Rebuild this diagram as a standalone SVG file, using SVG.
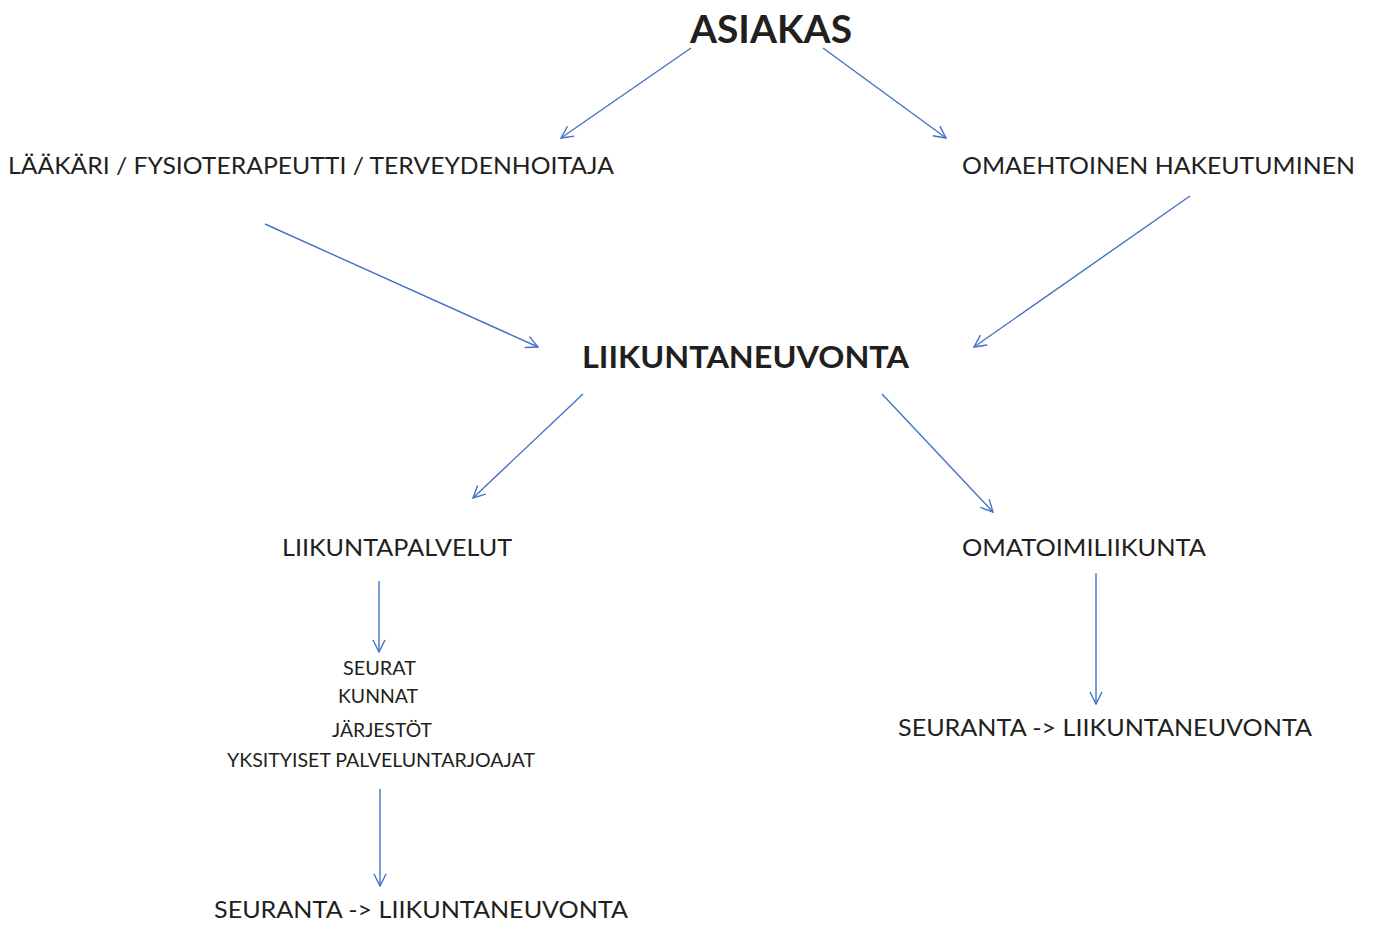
<svg xmlns="http://www.w3.org/2000/svg" width="1374" height="925" viewBox="0 0 1374 925">
<style>
text{font-family:"Lato","Open Sans","Liberation Sans",sans-serif;fill:#231f20}
.b{font-weight:bold}
.c{stroke:#4472c4;stroke-width:1.4;fill:none}
</style>
<defs>
<marker id="ah" viewBox="0 0 14 14" refX="13" refY="7" markerWidth="14" markerHeight="14" markerUnits="userSpaceOnUse" orient="auto">
<path d="M1,1 L13,7 L1,13" fill="none" stroke="#4472c4" stroke-width="1.4"/>
</marker>
</defs>
<rect width="1374" height="925" fill="#fff"/>
<g id="connectors">
<line class="c" x1="691" y1="48" x2="561" y2="138" marker-end="url(#ah)"/>
<line class="c" x1="823" y1="48" x2="946" y2="138" marker-end="url(#ah)"/>
<line class="c" x1="265" y1="224" x2="538" y2="347" marker-end="url(#ah)"/>
<line class="c" x1="1190" y1="196" x2="974" y2="347" marker-end="url(#ah)"/>
<line class="c" x1="583" y1="394" x2="473" y2="498" marker-end="url(#ah)"/>
<line class="c" x1="882" y1="394" x2="993" y2="512" marker-end="url(#ah)"/>
<line class="c" x1="379" y1="581" x2="379" y2="652" marker-end="url(#ah)"/>
<line class="c" x1="1096" y1="573" x2="1096" y2="704" marker-end="url(#ah)"/>
<line class="c" x1="380" y1="789" x2="380" y2="886" marker-end="url(#ah)"/>
</g>
<g id="asiakas"><text class="b" x="690" y="43" font-size="38" textLength="162" lengthAdjust="spacingAndGlyphs">ASIAKAS</text></g>
<g id="laakari"><text x="8" y="174" font-size="24" textLength="606" lengthAdjust="spacingAndGlyphs">LÄÄKÄRI / FYSIOTERAPEUTTI / TERVEYDENHOITAJA</text></g>
<g id="omaehtoinen"><text x="962" y="174" font-size="24" textLength="393" lengthAdjust="spacingAndGlyphs">OMAEHTOINEN HAKEUTUMINEN</text></g>
<g id="liikuntaneuvonta"><text class="b" x="582" y="368" font-size="30" textLength="327" lengthAdjust="spacingAndGlyphs">LIIKUNTANEUVONTA</text></g>
<g id="liikuntapalvelut"><text x="282" y="556" font-size="24" textLength="230" lengthAdjust="spacingAndGlyphs">LIIKUNTAPALVELUT</text></g>
<g id="omatoimiliikunta"><text x="962" y="556" font-size="24" textLength="244" lengthAdjust="spacingAndGlyphs">OMATOIMILIIKUNTA</text></g>
<g id="palveluntarjoajat">
<text x="343" y="675" font-size="19" textLength="73" lengthAdjust="spacingAndGlyphs">SEURAT</text>
<text x="338" y="703" font-size="19" textLength="80" lengthAdjust="spacingAndGlyphs">KUNNAT</text>
<text x="332" y="737" font-size="19" textLength="100" lengthAdjust="spacingAndGlyphs">JÄRJESTÖT</text>
<text x="227" y="767" font-size="19" textLength="308" lengthAdjust="spacingAndGlyphs">YKSITYISET PALVELUNTARJOAJAT</text>
</g>
<g id="seuranta-right"><text x="898" y="736" font-size="24" textLength="414" lengthAdjust="spacingAndGlyphs">SEURANTA -&gt; LIIKUNTANEUVONTA</text></g>
<g id="seuranta-bottom"><text x="214" y="918" font-size="24" textLength="414" lengthAdjust="spacingAndGlyphs">SEURANTA -&gt; LIIKUNTANEUVONTA</text></g>
</svg>
